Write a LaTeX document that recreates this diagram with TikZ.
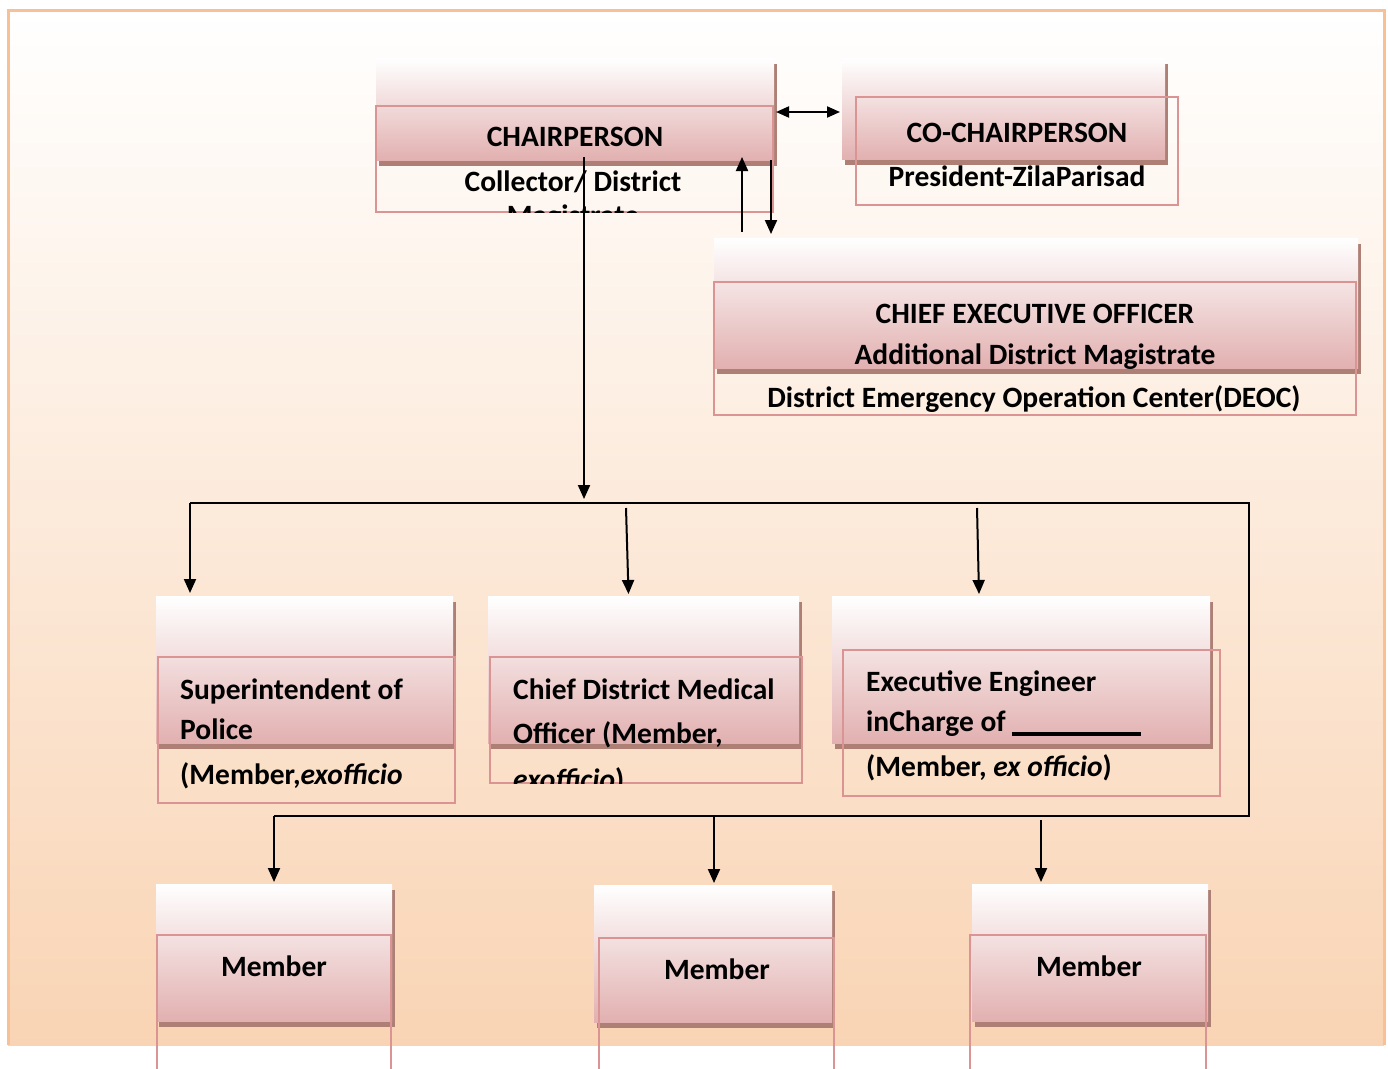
\documentclass[tikz,border=0pt]{standalone}
\usepackage{fontspec}
\setmainfont{Carlito}
\usetikzlibrary{arrows.meta,calc}
\definecolor{frameorange}{HTML}{F8C195}
\definecolor{peach}{HTML}{F9D4B4}
\definecolor{pinkline}{HTML}{DA9494}
\definecolor{pinkbot}{HTML}{E2B0B0}
\definecolor{shadowc}{HTML}{AD7F75}

% shaded block with drop shadow: name, x1, y1, x2, y2
\newcommand\orgshape[5]{%
  \fill[shadowc] ({#2+3},{#3+6}) rectangle ({#4+3},{#5+6});
  \node[shapefill, minimum width={#4-#2}, minimum height={#5-#3}]
    (#1) at ({(#2+#4)/2},{(#3+#5)/2}) {};
}
% pink outlined text frame: name, x1, y1, x2, y2
\newcommand\orgframe[5]{%
  \node[frameline, minimum width={#4-#2}, minimum height={#5-#3}]
    (#1) at ({(#2+#4)/2},{(#3+#5)/2}) {};
}

\begin{document}
\begin{tikzpicture}[x=1pt,y=-1pt,
  shapefill/.style={rectangle, inner sep=0pt, outer sep=0pt,
    top color=white, bottom color=pinkbot},
  frameline/.style={rectangle, inner sep=0pt, outer sep=0pt,
    draw=pinkline, line width=2.6pt},
  lbl/.style={inner sep=0pt, font=\fontsize{29.5}{35}\selectfont\bfseries},
  arr/.style={line width=2pt, -{Triangle[length=14pt,width=12pt]}},
  link/.style={line width=2pt}]

\useasboundingbox (0,0) rectangle (1388,1068);
\fill[white] (0,0) rectangle (1388,1068);
\shade[top color=white, bottom color=peach] (8,10) rectangle (1384,1045);
\draw[frameorange, line width=3pt] (8,1045) -- (8,10) -- (1384,10) -- (1384,1045);

% ---------- blocks ----------
\orgshape{chairS}{376}{58}{774}{160}
\orgshape{coS}{842}{58}{1165}{159}
\orgshape{ceoS}{714}{238}{1358}{368}
\orgshape{spS}{156}{596}{453}{743}
\orgshape{cdmoS}{488}{596}{799}{743}
\orgshape{eeS}{832}{596}{1210}{743}
\orgshape{mAS}{156}{884}{392}{1021}
\orgshape{mBS}{594}{885}{832}{1022}
\orgshape{mCS}{972}{884}{1208}{1021}

\orgframe{chairF}{376}{106}{773}{212}
\orgframe{coF}{856}{97}{1178}{205}
\orgframe{ceoF}{714}{282}{1356}{415}
\orgframe{spF}{158}{657}{455}{803}
\orgframe{cdmoF}{490}{657}{802}{783}
\orgframe{eeF}{843}{650}{1220}{796}
\orgframe{mAF}{157}{935}{391}{1075}
\orgframe{mBF}{599}{938}{834}{1075}
\orgframe{mCF}{970}{935}{1206}{1075}

% ---------- labels ----------
\node[lbl, anchor=base] (tChair) at (575,146) {CHAIRPERSON};
\begin{scope}
  \clip (376,106) rectangle (773,212);
  \node[lbl, anchor=base] (tColl) at (573,191) {Collector/ District};
  \node[lbl, anchor=base] (tMag) at (573,225) {Magistrate};
\end{scope}
\node[lbl, anchor=base] (tCo) at (1017,142) {CO-CHAIRPERSON};
\node[lbl, anchor=base] (tPres) at (1017,186) {President-ZilaParisad};

\node[lbl, anchor=base] (tCeo) at (1035,323) {CHIEF EXECUTIVE OFFICER};
\node[lbl, anchor=base] (tAdm) at (1035,364) {Additional District Magistrate};
\node[lbl, anchor=base] (tDeoc) at (1034,407) {District Emergency Operation Center(DEOC)};

\node[lbl, anchor=base west] (tSp1) at (180,699) {Superintendent of};
\node[lbl, anchor=base west] (tSp2) at (180,739) {Police};
\node[lbl, anchor=base west] (tSp3) at (180,784) {(Member,\textit{exofficio}};

\node[lbl, anchor=base west] (tMo1) at (513,699) {Chief District Medical};
\node[lbl, anchor=base west] (tMo2) at (513,743) {Officer (Member,};
\begin{scope}
  \clip (490,657) rectangle (802,783);
  \node[lbl, anchor=base west] (tMo3) at (513,789) {\textit{exofficio})};
\end{scope}

\node[lbl, anchor=base west] (tEe1) at (866,691) {Executive Engineer};
\node[lbl, anchor=base west] (tEe2) at (866,731) {inCharge of};
\draw[line width=3.5pt] (1012,734) -- (1141,734);
\node[lbl, anchor=base west] (tEe3) at (866,776) {(Member, \textit{ex officio})};

\node[lbl, anchor=base] (tMA) at (274,976) {Member};
\node[lbl, anchor=base] (tMB) at (717,979) {Member};
\node[lbl, anchor=base] (tMC) at (1089,976) {Member};

% ---------- connectors ----------
\coordinate (dblL) at (776,112);
\coordinate (dblR) at (840,112);
\coordinate (upA) at (742,232);
\coordinate (upB) at (742,157);
\coordinate (dnA) at (771,160);
\coordinate (dnB) at (771,234);
\coordinate (dropA) at (584,157);
\coordinate (dropB) at (584,499);
\coordinate (busL) at (190,503);
\coordinate (busR) at (1249,503);
\coordinate (busRB) at (1249,816);
\coordinate (busLB) at (274,816);
\coordinate (busM) at (626,508);
\coordinate (busE) at (977,508);
\coordinate (lowM) at (714,816);
\coordinate (lowE) at (1041,820);

\draw[line width=2pt, {Triangle[length=13pt,width=11pt]}-{Triangle[length=13pt,width=11pt]}] (dblL) -- (dblR);
\draw[arr] (upA) -- (upB);
\draw[arr] (dnA) -- (dnB);
\draw[arr] (dropA) -- (dropB);
\draw[link] (busL) -- (busR) -- (busRB) -- (busLB);
\draw[arr] (busL) -- ($(busL |- spS.north)+(0,-3)$);
\draw[arr] (busM) -- ($(cdmoS.north)+(-15,-2)$);
\draw[arr] (busE) -- ($(eeS.north)+(-42,-2)$);
\draw[arr] (busLB) -- ($(mAS.north)+(0,-2)$);
\draw[arr] (lowM) -- ($(mBS.north)+(1,-2)$);
\draw[arr] (lowE) -- ($(mCS.north)+(-49,-2)$);
\end{tikzpicture}
\end{document}
